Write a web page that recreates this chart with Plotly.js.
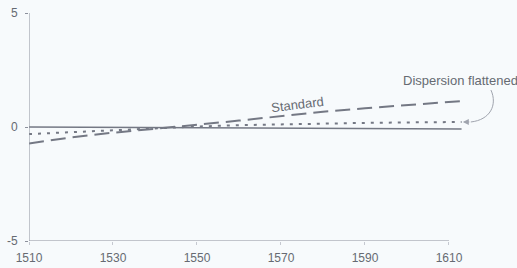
<!DOCTYPE html>
<html>
<head>
<meta charset="utf-8">
<script src="https://cdn.plot.ly/plotly-3.0.1.min.js"></script>
<style>html,body{margin:0;padding:0;background:#f7fafc;}#chart{width:517px;height:268px;}</style>
</head>
<body>
<div id="chart"></div>
<script>
// Data
const years = [1510, 1520, 1530, 1540, 1550, 1560, 1570, 1580, 1590, 1600, 1613];
const standard = [-0.72, -0.46, -0.25, -0.06, 0.10, 0.28, 0.49, 0.67, 0.82, 0.97, 1.14];
const flattened = [-0.31, -0.22, -0.13, -0.05, 0.02, 0.08, 0.12, 0.15, 0.18, 0.20, 0.22];
const baseline = [0.0, -0.01, -0.02, -0.03, -0.03, -0.04, -0.05, -0.06, -0.07, -0.08, -0.09];
const xTicks = [1510, 1530, 1550, 1570, 1590, 1610];
const yTicks = [-5, 0, 5];

const axisColor = '#8c909c';
const lineColor = '#747884';
const textColor = '#666a72';

const traces = [
  {x: years, y: baseline, mode: 'lines', line: {color: lineColor, width: 1.5}, hoverinfo: 'skip'},
  {x: years, y: flattened, mode: 'lines', line: {color: lineColor, width: 2, dash: '3px,6px'}, hoverinfo: 'skip'},
  {x: years, y: standard, mode: 'lines', line: {color: lineColor, width: 2, dash: '15px,7px'}, hoverinfo: 'skip'}
];

const layout = {
  width: 517, height: 268,
  margin: {l: 29, r: 0, t: 13, b: 27},
  paper_bgcolor: '#f7fafc', plot_bgcolor: '#f7fafc',
  showlegend: false,
  font: {family: 'Liberation Sans, Arial, sans-serif', size: 12, color: textColor},
  xaxis: {
    range: [1510, 1626.2], tickvals: xTicks, ticktext: xTicks.map(String),
    showgrid: false, zeroline: false, showline: false,
    ticks: 'outside', ticklen: 3, tickcolor: '#c5c8d0', ticklabelstandoff: 3,
    tickfont: {size: 12, color: textColor}
  },
  yaxis: {
    range: [-5, 5], tickvals: yTicks, ticktext: yTicks.map(String),
    showgrid: false, zeroline: false, showline: false,
    ticks: 'outside', ticklen: 3, tickcolor: axisColor, ticklabelstandoff: 5,
    tickfont: {size: 12, color: textColor}
  },
  shapes: [
    {type: 'line', xref: 'x', yref: 'y', x0: xTicks[0], x1: xTicks[xTicks.length - 1], y0: yTicks[0], y1: yTicks[0], line: {color: axisColor, width: 1}},
    {type: 'line', xref: 'x', yref: 'y', x0: xTicks[0], x1: xTicks[0], y0: yTicks[0], y1: yTicks[yTicks.length - 1], line: {color: axisColor, width: 1}},
    {type: 'path', xref: 'x', yref: 'y', path: 'M 1620.0,1.62 C 1621.6,0.96 1619.8,0.31 1615.2,0.22', line: {color: '#a0a4ae', width: 1}}
  ],
  annotations: [
    {x: 1574.0, y: 1.0, xref: 'x', yref: 'y', text: 'Standard', showarrow: false, textangle: -7,
     font: {size: 13, color: textColor}},
    {x: 1598.5, y: 2.06, xref: 'x', yref: 'y', text: 'Dispersion flattened', showarrow: false,
     xanchor: 'left', yanchor: 'middle', font: {size: 13, color: textColor}},
    {x: years[years.length - 1] + 0.3, y: flattened[flattened.length - 1], xref: 'x', yref: 'y', text: '', showarrow: true,
     ax: 8, ay: 0, arrowhead: 2, arrowsize: 1.2, arrowwidth: 1, arrowcolor: '#a0a4ae', standoff: 0}
  ]
};

Plotly.newPlot('chart', traces, layout, {displayModeBar: false, staticPlot: true});
</script>
</body>
</html>
